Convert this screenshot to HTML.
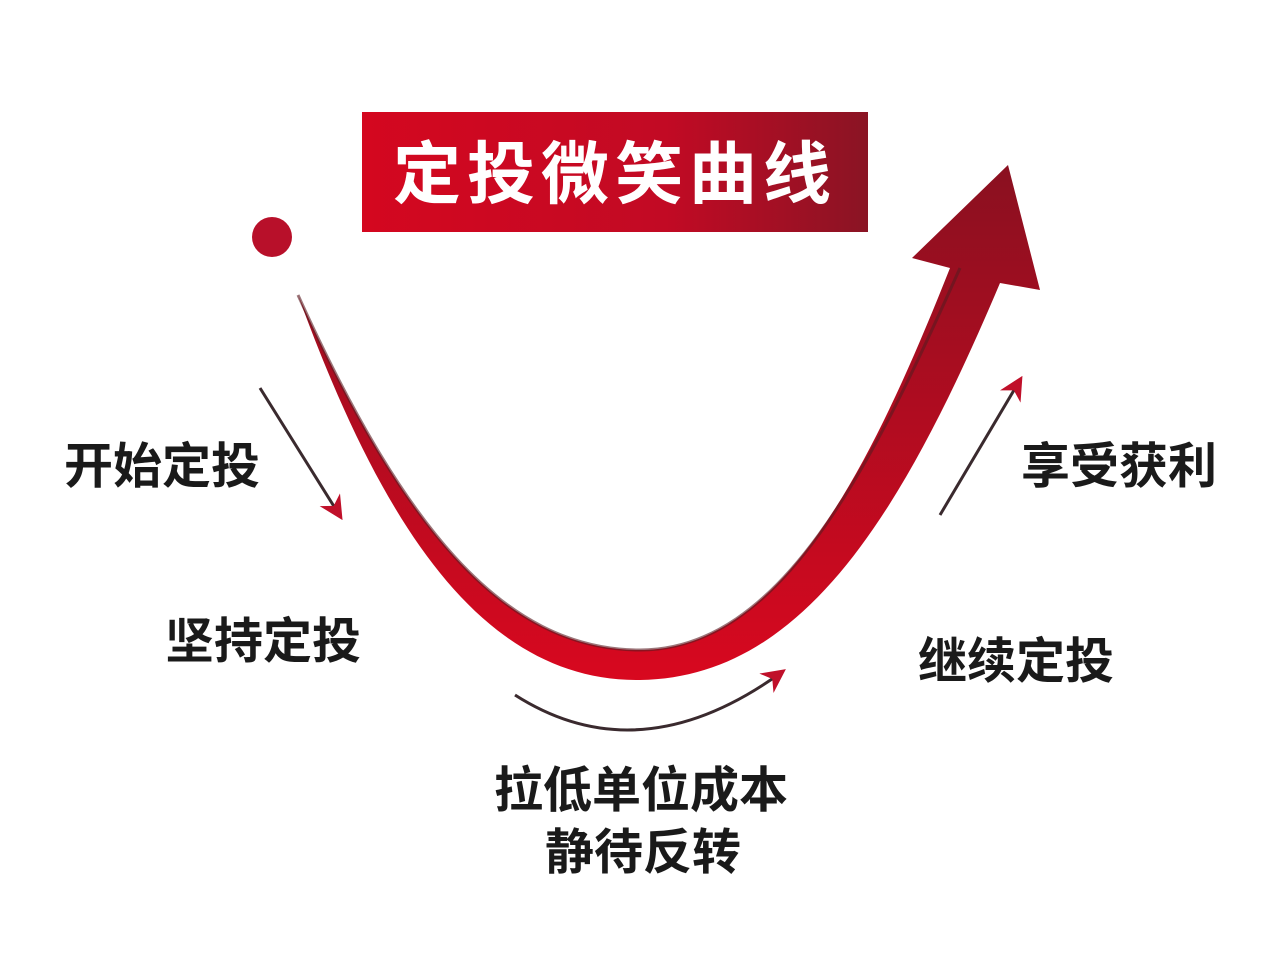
<!DOCTYPE html>
<html><head><meta charset="utf-8"><style>
html,body{margin:0;padding:0;background:#fff;width:1284px;height:973px;overflow:hidden}
svg{display:block}
text{font-family:"Liberation Sans","Noto Sans CJK SC",sans-serif;font-weight:bold}
</style></head><body>
<svg width="1284" height="973" viewBox="0 0 1284 973">
<defs>
<linearGradient id="tg" x1="0" y1="0" x2="1" y2="0">
<stop offset="0" stop-color="#d4071f"/><stop offset="0.6" stop-color="#c20a24"/><stop offset="1" stop-color="#8a1424"/>
</linearGradient>
<linearGradient id="cg" x1="0" y1="0" x2="0" y2="1">
<stop offset="0" stop-color="#8a1020"/><stop offset="1" stop-color="#d8081f"/>
</linearGradient>
<marker id="ah" viewBox="0 0 10 10" refX="8" refY="5" markerWidth="8" markerHeight="8" orient="auto-start-reverse">
<path d="M0,0 L10,5 L0,10 L3,5 Z" fill="#c0102a"/>
</marker>
</defs>
<rect x="362" y="112" width="506" height="120" fill="url(#tg)"/>
<text x="615" y="198" font-size="68" fill="#fff" text-anchor="middle" letter-spacing="6">定投微笑曲线</text>
<circle cx="272" cy="237" r="20" fill="#b8102a"/>
<path d="M298,295 C380,520 480,682 640,680 C800,678 900,520 1000,283 L1040,290 L1008,165 L912,258 L950,268 C870,470 780,650 640,650 C500,650 400,520 298,295 Z" fill="url(#cg)"/>
<path d="M960,268 C870,470 780,650 640,650 C500,650 400,520 298,295" fill="none" stroke="#5a1a22" stroke-width="3" opacity="0.6"/>
<line x1="260" y1="388" x2="340" y2="516" stroke="#3a2a2e" stroke-width="3" marker-end="url(#ah)"/>
<line x1="940" y1="515" x2="1020" y2="380" stroke="#3a2a2e" stroke-width="3" marker-end="url(#ah)"/>
<path d="M515,695 Q640,775 782,672" fill="none" stroke="#3a2a2e" stroke-width="3" marker-end="url(#ah)"/>
<g font-size="49" fill="#1a1a1a">
<text x="64" y="483">开始定投</text>
<text x="165" y="658">坚持定投</text>
<text x="494" y="807">拉低单位成本</text>
<text x="545" y="869">静待反转</text>
<text x="918" y="678">继续定投</text>
<text x="1021" y="483">享受获利</text>
</g>
</svg>
</body></html>
